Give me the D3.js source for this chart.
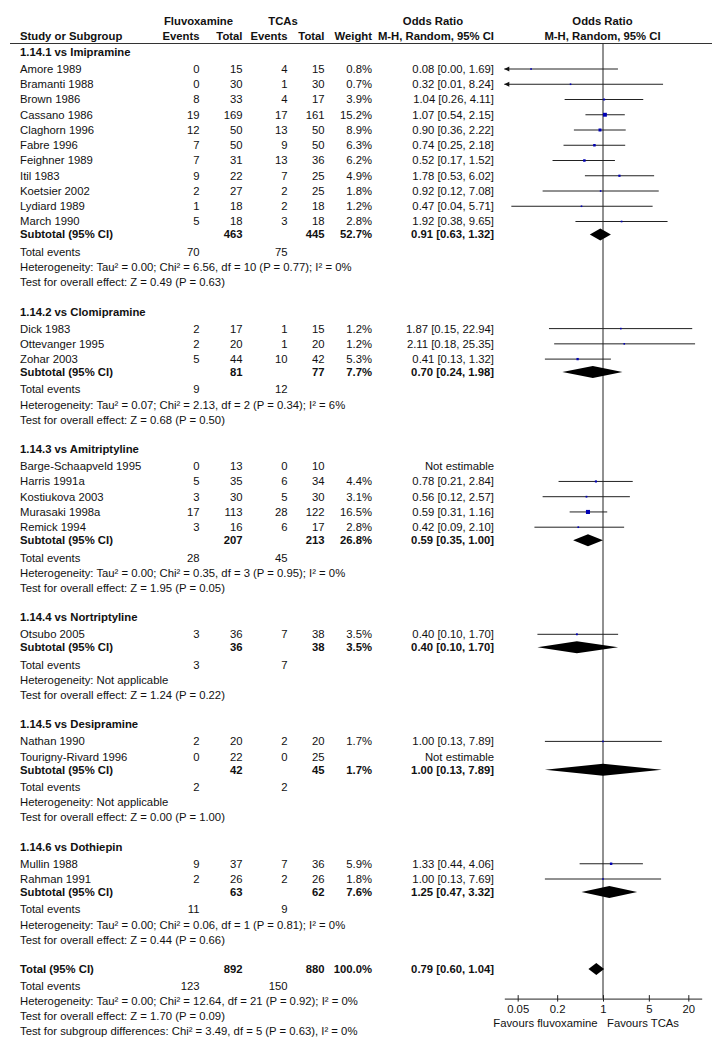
<!DOCTYPE html>
<html>
<head>
<meta charset="utf-8">
<script src="https://cdn.jsdelivr.net/npm/d3@7/dist/d3.min.js"></script>
<style>
  body { margin: 0; background: #fff; }
  svg text { font-family: "Liberation Sans", Arial, sans-serif; font-size: 11.3px; fill: #111; }
  svg text.b { font-weight: bold; }
</style>
</head>
<body>
<script>
// subgroups
var groups = ["1.14.1 vs Imipramine", "1.14.2 vs Clomipramine", "1.14.3 vs Amitriptyline",
              "1.14.4 vs Nortriptyline", "1.14.5 vs Desipramine", "1.14.6 vs Dothiepin"];

// studies
var studies = ["Amore 1989", "Bramanti 1988", "Brown 1986", "Cassano 1986", "Claghorn 1996", "Fabre 1996",
  "Feighner 1989", "Itil 1983", "Koetsier 2002", "Lydiard 1989", "March 1990",
  "Dick 1983", "Ottevanger 1995", "Zohar 2003",
  "Barge-Schaapveld 1995", "Harris 1991a", "Kostiukova 2003", "Murasaki 1998a", "Remick 1994",
  "Otsubo 2005",
  "Nathan 1990", "Tourigny-Rivard 1996",
  "Mullin 1988", "Rahman 1991"];
var studyGroup = [0,0,0,0,0,0,0,0,0,0,0, 1,1,1, 2,2,2,2,2, 3, 4,4, 5,5];
var flEvents  = [0,0,8,19,12,7,7,9,2,1,5, 2,2,5, 0,5,3,17,3, 3, 2,0, 9,2];
var flTotal   = [15,30,33,169,50,50,31,22,27,18,18, 17,20,44, 13,35,30,113,16, 36, 20,22, 37,26];
var tcaEvents = [4,1,4,17,13,9,13,7,2,2,3, 1,1,10, 0,6,5,28,6, 7, 2,0, 7,2];
var tcaTotal  = [15,30,17,161,50,50,36,25,25,18,18, 15,20,42, 10,34,30,122,17, 38, 20,25, 36,26];
var weights   = [0.8,0.7,3.9,15.2,8.9,6.3,6.2,4.9,1.8,1.2,2.8, 1.2,1.2,5.3, null,4.4,3.1,16.5,2.8, 3.5, 1.7,null, 5.9,1.8];
var orEst     = [0.08,0.32,1.04,1.07,0.90,0.74,0.52,1.78,0.92,0.47,1.92, 1.87,2.11,0.41, null,0.78,0.56,0.59,0.42, 0.40, 1.00,null, 1.33,1.00];
var orLow     = [0.00,0.01,0.26,0.54,0.36,0.25,0.17,0.53,0.12,0.04,0.38, 0.15,0.18,0.13, null,0.21,0.12,0.31,0.09, 0.10, 0.13,null, 0.44,0.13];
var orHigh    = [1.69,8.24,4.11,2.15,2.22,2.18,1.52,6.02,7.08,5.71,9.65, 22.94,25.35,1.32, null,2.84,2.57,1.16,2.10, 1.70, 7.89,null, 4.06,7.69];

// subtotals
var subFlTotal   = [463, 81, 207, 36, 42, 63];
var subTcaTotal  = [445, 77, 213, 38, 45, 62];
var subWeight    = [52.7, 7.7, 26.8, 3.5, 1.7, 7.6];
var subOr        = [0.91, 0.70, 0.59, 0.40, 1.00, 1.25];
var subLow       = [0.63, 0.24, 0.35, 0.10, 0.13, 0.47];
var subHigh      = [1.32, 1.98, 1.00, 1.70, 7.89, 3.32];
var subFlEvents  = [70, 9, 28, 3, 2, 11];
var subTcaEvents = [75, 12, 45, 7, 2, 9];
var subHet = [
  "Heterogeneity: Tau² = 0.00; Chi² = 6.56, df = 10 (P = 0.77); I² = 0%",
  "Heterogeneity: Tau² = 0.07; Chi² = 2.13, df = 2 (P = 0.34); I² = 6%",
  "Heterogeneity: Tau² = 0.00; Chi² = 0.35, df = 3 (P = 0.95); I² = 0%",
  "Heterogeneity: Not applicable",
  "Heterogeneity: Not applicable",
  "Heterogeneity: Tau² = 0.00; Chi² = 0.06, df = 1 (P = 0.81); I² = 0%"];
var subTest = [
  "Test for overall effect: Z = 0.49 (P = 0.63)",
  "Test for overall effect: Z = 0.68 (P = 0.50)",
  "Test for overall effect: Z = 1.95 (P = 0.05)",
  "Test for overall effect: Z = 1.24 (P = 0.22)",
  "Test for overall effect: Z = 0.00 (P = 1.00)",
  "Test for overall effect: Z = 0.44 (P = 0.66)"];

// overall
var totalCounts = [892, 880];
var totalEvents = [123, 150];
var totalWeight = 100.0;
var totalOr = [0.79, 0.60, 1.04];
var totalLines = [
  "Heterogeneity: Tau² = 0.00; Chi² = 12.64, df = 21 (P = 0.92); I² = 0%",
  "Test for overall effect: Z = 1.70 (P = 0.09)",
  "Test for subgroup differences: Chi² = 3.49, df = 5 (P = 0.63), I² = 0%"];

var tickValues = [0.05, 0.2, 1, 5, 20];
var favours = ["Favours fluvoxamine", "Favours TCAs"];

var W = 720, H = 1048;
var col = {name: 20, flE: 199.5, flT: 242.5, tcE: 287.5, tcT: 324.5, wt: 372, or: 494};

var svg = d3.select("body").append("svg")
  .attr("width", W)
  .attr("height", H);

var x = d3.scaleLog().domain([1/32, 32]).range([504.3, 701.7]);
var xMin = x.domain()[0], xMax = x.domain()[1];

function fmt2(v) { return d3.format(".2f")(v); }
function ciText(o, l, h) { return fmt2(o) + " [" + fmt2(l) + ", " + fmt2(h) + "]"; }

function txt(xx, yy, s, anchor, bold) {
  return svg.append("text")
    .attr("x", xx).attr("y", yy).attr("dy", "0.35em")
    .attr("text-anchor", anchor || "start")
    .attr("class", bold ? "b" : null)
    .text(s);
}

// header
txt(198.5, 21, "Fluvoxamine", "middle", true);
txt(283, 21, "TCAs", "middle", true);
txt(433, 21, "Odds Ratio", "middle", true);
txt(602.5, 21, "Odds Ratio", "middle", true);
txt(col.name, 36, "Study or Subgroup", "start", true);
txt(col.flE, 36, "Events", "end", true);
txt(col.flT, 36, "Total", "end", true);
txt(col.tcE, 36, "Events", "end", true);
txt(col.tcT, 36, "Total", "end", true);
txt(col.wt, 36, "Weight", "end", true);
txt(col.or, 36, "M-H, Random, 95% CI", "end", true);
txt(602.5, 36, "M-H, Random, 95% CI", "middle", true);

svg.append("line")
  .attr("x1", 10).attr("x2", 712).attr("y1", 43.5).attr("y2", 43.5)
  .attr("stroke", "#333").attr("stroke-width", 1);

// row layout
var rows = [];
var y = 52;
groups.forEach(function(g, gi) {
  if (gi > 0) y += 29.3;
  rows.push({type: "group", y: y, gi: gi});
  var first = true;
  studies.forEach(function(s, i) {
    if (studyGroup[i] !== gi) return;
    y += first ? 17 : 15.25;
    first = false;
    rows.push({type: "study", y: y, i: i});
  });
  y += 13;   rows.push({type: "subtotal", y: y, gi: gi});
  y += 17.4; rows.push({type: "events", y: y, gi: gi});
  y += 15.2; rows.push({type: "het", y: y, gi: gi});
  y += 15.2; rows.push({type: "test", y: y, gi: gi});
});
y += 29.3; var totalY = y;
var footY = [];
footY.push(y += 17.3);
footY.push(y += 14.8);
footY.push(y += 15);
footY.push(y += 14.6);

var axisY = totalY + 29.5;

// zero-effect line
svg.append("line")
  .attr("x1", x(1)).attr("x2", x(1))
  .attr("y1", 43.5).attr("y2", axisY)
  .attr("stroke", "#222").attr("stroke-width", 1);

function diamond(yy, o, l, h) {
  var hh = 6;
  svg.append("path")
    .attr("d", "M" + x(l) + "," + yy + "L" + x(o) + "," + (yy - hh) +
               "L" + x(h) + "," + yy + "L" + x(o) + "," + (yy + hh) + "Z")
    .attr("fill", "#000");
}

rows.forEach(function(r) {
  if (r.type === "group") {
    txt(col.name, r.y, groups[r.gi], "start", true);
  } else if (r.type === "study") {
    var i = r.i;
    txt(col.name, r.y, studies[i]);
    txt(col.flE, r.y, flEvents[i], "end");
    txt(col.flT, r.y, flTotal[i], "end");
    txt(col.tcE, r.y, tcaEvents[i], "end");
    txt(col.tcT, r.y, tcaTotal[i], "end");
    if (orEst[i] == null) {
      txt(col.or, r.y, "Not estimable", "end");
      return;
    }
    txt(col.wt, r.y, weights[i].toFixed(1) + "%", "end");
    txt(col.or, r.y, ciText(orEst[i], orLow[i], orHigh[i]), "end");
    var lo = Math.max(orLow[i], xMin), hi = Math.min(orHigh[i], xMax);
    svg.append("line")
      .attr("x1", x(lo)).attr("x2", x(hi))
      .attr("y1", r.y).attr("y2", r.y)
      .attr("stroke", "#222").attr("stroke-width", 1);
    if (orLow[i] < xMin) {
      var ax = x(xMin);
      svg.append("path")
        .attr("d", "M" + ax + "," + r.y + "L" + (ax + 5) + "," + (r.y - 2.5) + "L" + (ax + 5) + "," + (r.y + 2.5) + "Z")
        .attr("fill", "#111");
    }
    var s = Math.max(1.6, Math.sqrt(weights[i]));
    svg.append("rect")
      .attr("x", x(orEst[i]) - s / 2).attr("y", r.y - s / 2)
      .attr("width", s).attr("height", s)
      .attr("fill", "#0000b4");
  } else if (r.type === "subtotal") {
    var g = r.gi;
    txt(col.name, r.y, "Subtotal (95% CI)", "start", true);
    txt(col.flT, r.y, subFlTotal[g], "end", true);
    txt(col.tcT, r.y, subTcaTotal[g], "end", true);
    txt(col.wt, r.y, subWeight[g].toFixed(1) + "%", "end", true);
    txt(col.or, r.y, ciText(subOr[g], subLow[g], subHigh[g]), "end", true);
    diamond(r.y, subOr[g], subLow[g], subHigh[g]);
  } else if (r.type === "events") {
    txt(col.name, r.y, "Total events");
    txt(col.flE, r.y, subFlEvents[r.gi], "end");
    txt(col.tcE, r.y, subTcaEvents[r.gi], "end");
  } else if (r.type === "het") {
    txt(col.name, r.y, subHet[r.gi]);
  } else if (r.type === "test") {
    txt(col.name, r.y, subTest[r.gi]);
  }
});

// overall
txt(col.name, totalY, "Total (95% CI)", "start", true);
txt(col.flT, totalY, totalCounts[0], "end", true);
txt(col.tcT, totalY, totalCounts[1], "end", true);
txt(col.wt, totalY, totalWeight.toFixed(1) + "%", "end", true);
txt(col.or, totalY, ciText(totalOr[0], totalOr[1], totalOr[2]), "end", true);
diamond(totalY, totalOr[0], totalOr[1], totalOr[2]);

txt(col.name, footY[0], "Total events");
txt(col.flE, footY[0], totalEvents[0], "end");
txt(col.tcE, footY[0], totalEvents[1], "end");
totalLines.forEach(function(t, k) { txt(col.name, footY[k + 1], t); });

// axis
var axis = d3.axisBottom(x)
  .tickValues(tickValues)
  .tickFormat(function(d) { return d; })
  .tickSizeOuter(0)
  .tickSizeInner(3);

var ag = svg.append("g")
  .attr("transform", "translate(0," + axisY + ")")
  .call(axis);
ag.select(".domain").attr("stroke", "#222");
ag.selectAll(".tick line").attr("y1", -3.5).attr("y2", 3).attr("stroke", "#222");
ag.selectAll(".tick text")
  .attr("y", 6)
  .style("font-family", "\"Liberation Sans\", Arial, sans-serif")
  .style("font-size", "11.3px")
  .attr("fill", "#111");

svg.append("text")
  .attr("x", x(1) - 5.5).attr("y", axisY + 24).attr("dy", "0.35em")
  .attr("text-anchor", "end").text(favours[0]);
svg.append("text")
  .attr("x", x(1) + 4).attr("y", axisY + 24).attr("dy", "0.35em")
  .attr("text-anchor", "start").text(favours[1]);
</script>
</body>
</html>
